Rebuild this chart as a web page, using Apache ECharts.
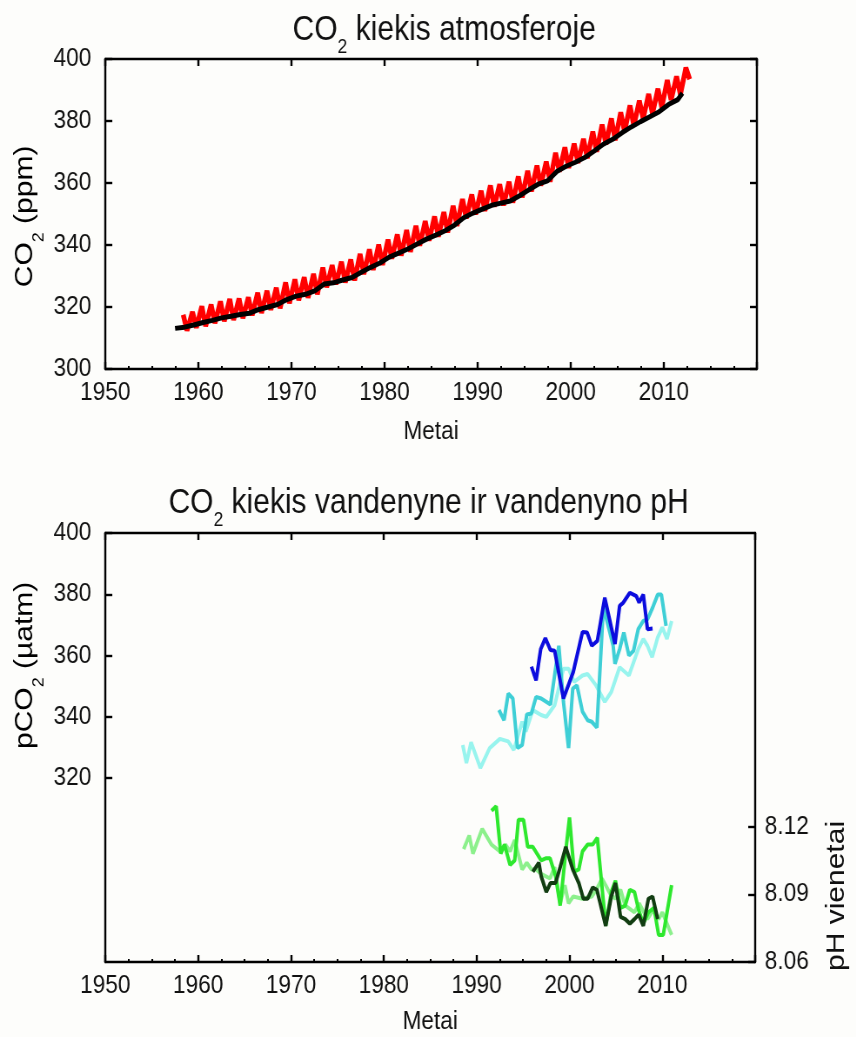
<!DOCTYPE html>
<html><head><meta charset="utf-8">
<script src="https://cdn.jsdelivr.net/npm/echarts@6/dist/echarts.min.js"></script>
<style>
html,body{margin:0;padding:0;background:#fdfdfb}
#wrap{width:856px;height:1037px;overflow:hidden}
#c{width:984px;height:1037px;transform:scaleX(0.87);transform-origin:0 0}
</style>
</head><body><div id="wrap"><div id="c"></div></div>
<script>
// ---- Top chart: atmospheric CO2 ----
const atmYears = [1958,1959,1960,1961,1962,1963,1964,1965,1966,1967,1968,1969,1970,1971,1972,1973,1974,1975,1976,1977,1978,1979,1980,1981,1982,1983,1984,1985,1986,1987,1988,1989,1990,1991,1992,1993,1994,1995,1996,1997,1998,1999,2000,2001,2002,2003,2004,2005,2006,2007,2008,2009,2010,2011,2012];
const atmPeaks = [317.5,318.4,320.2,320.8,321.8,322.6,322.7,323.1,324.6,325.2,326.2,327.9,328.9,329.6,330.7,332.7,333.5,334.6,335.3,337.1,338.6,340.1,341.7,343.4,344.8,346.2,347.7,349.2,350.6,352.6,354.8,356.3,357.5,359.2,359.6,360.4,362.1,363.9,365.6,366.9,369.7,371.5,372.7,374.2,376.6,378.8,380.8,382.8,385.0,386.6,388.7,390.4,393.2,394.4,397.2];
const atmTroughs = [312.4,313.3,313.8,314.8,315.4,315.8,316.4,317.3,318.1,319.1,319.6,321.2,322.2,323.0,324.1,326.4,327.3,327.9,328.6,330.6,332.0,333.6,335.6,336.6,337.8,339.8,341.4,342.7,344.1,346.2,348.6,349.9,351.0,352.4,352.8,353.7,355.4,357.3,359.2,360.4,363.7,364.9,366.5,368.0,370.1,372.5,373.8,376.6,378.4,380.8,382.3,384.4,386.8,388.5,393.5];
const trendYears = [1957.5,1958.5,1959.5,1960.5,1961.5,1962.5,1963.5,1964.5,1965.5,1966.5,1967.5,1968.5,1969.5,1970.5,1971.5,1972.5,1973.5,1974.5,1975.5,1976.5,1977.5,1978.5,1979.5,1980.5,1981.5,1982.5,1983.5,1984.5,1985.5,1986.5,1987.5,1988.5,1989.5,1990.5,1991.5,1992.5,1993.5,1994.5,1995.5,1996.5,1997.5,1998.5,1999.5,2000.5,2001.5,2002.5,2003.5,2004.5,2005.5,2006.5,2007.5,2008.5,2009.5,2010.5,2011.5,2012.0];
const trendVals = [313.1,313.5,314.2,315.0,315.7,316.5,317.0,317.6,318.0,319.2,320.0,320.8,322.4,323.5,324.1,325.2,327.4,327.8,328.7,329.5,331.2,332.8,334.2,336.1,337.4,338.7,340.3,341.9,343.2,344.6,346.4,348.8,350.3,351.6,352.8,353.5,354.2,355.9,357.8,359.6,360.7,363.7,365.4,366.7,368.2,370.3,372.5,374.1,376.2,378.1,379.8,381.4,383.0,385.3,386.9,389.0];

// ---- Bottom chart: ocean pCO2 (µatm) ----
const blueYears = [1995.9,1996.4,1996.9,1997.4,1997.95,1998.4,1999.35,2000.4,2001.4,2001.9,2002.4,2003.0,2003.8,2004.9,2005.4,2005.8,2006.5,2007.2,2007.5,2007.95,2008.4,2008.95];
const blueVals = [356.4,351.9,362.1,365.7,361.8,361.6,346.0,354.6,367.7,367.5,363.2,364.8,378.9,363.8,376.2,377.3,380.5,379.4,377.3,379.9,368.6,368.8];
const cyanYears = [1992.4,1992.95,1993.4,1993.9,1994.4,1994.9,1995.4,1995.9,1996.4,1996.95,1997.95,1998.85,1999.35,1999.9,2000.35,2000.8,2001.4,2001.95,2002.4,2002.95,2003.65,2004.7,2004.9,2005.4,2005.85,2006.4,2006.9,2007.4,2007.95,2008.4,2008.95,2009.5,2009.9,2010.4];
const cyanVals = [342.2,338.9,347.6,346.0,329.8,330.8,340.8,341.1,346.5,346.0,344.0,363.2,344.9,329.8,349.2,350.3,341.7,338.9,338.4,336.5,376.0,363.2,357.3,362.1,367.5,360.0,361.6,368.6,371.3,371.8,375.6,379.9,379.9,369.7];
const paleYears = [1988.5,1988.9,1989.4,1990.4,1991.4,1992.5,1993.4,1994.0,1994.9,1995.3,1996.05,1996.95,1997.5,1998.4,1999.35,1999.9,2000.5,2001.4,2001.95,2002.85,2003.8,2004.5,2005.4,2006.4,2007.4,2007.95,2008.4,2008.9,2009.5,2010.0,2010.5,2011.0];
const paleVals = [330.8,324.9,331.7,323.3,329.8,332.8,332.0,329.2,338.4,335.2,342.2,340.6,340.0,343.8,355.7,355.7,351.4,353.5,354.0,350.3,344.9,348.1,356.2,353.5,362.1,365.4,363.2,359.5,365.9,369.2,365.4,371.3];

// ---- Bottom chart: ocean pH ----
const lgYears = [1988.6,1989.2,1989.6,1990.6,1991.6,1992.5,1993.1,1993.6,1994.1,1994.9,1995.4,1995.9,1996.4,1996.95,1997.9,1998.4,1999.0,1999.5,1999.9,2000.4,2001.4,2002.4,2002.9,2003.5,2003.9,2004.4,2004.9,2005.5,2006.0,2007.0,2007.5,2008.4,2009.0,2009.6,2010.0,2011.0];
const lgVals = [8.110,8.116,8.108,8.119,8.112,8.109,8.112,8.109,8.114,8.101,8.104,8.101,8.101,8.099,8.097,8.102,8.086,8.094,8.086,8.089,8.088,8.089,8.092,8.097,8.094,8.090,8.088,8.092,8.085,8.082,8.086,8.079,8.083,8.079,8.082,8.072];
const bgYears = [1991.6,1992.1,1992.6,1993.0,1993.6,1994.1,1994.5,1995.05,1995.5,1996.05,1996.95,1997.5,1997.9,1998.5,1999.0,1999.6,2000.0,2000.5,2001.0,2001.4,2001.95,2002.5,2003.0,2003.9,2004.5,2004.95,2005.5,2006.0,2006.5,2007.0,2007.45,2007.95,2008.5,2009.1,2009.6,2010.1,2011.0];
const bgVals = [8.127,8.129,8.108,8.112,8.103,8.105,8.123,8.123,8.111,8.111,8.105,8.106,8.106,8.098,8.085,8.109,8.124,8.100,8.101,8.109,8.112,8.112,8.115,8.076,8.091,8.096,8.084,8.085,8.092,8.091,8.083,8.077,8.082,8.084,8.072,8.072,8.094];
const dgYears = [1996.05,1996.7,1996.95,1997.5,1997.95,1998.5,1999.0,1999.6,2000.35,2001.0,2001.5,2001.95,2002.5,2002.95,2003.9,2004.5,2004.95,2005.5,2006.0,2006.5,2007.0,2007.45,2007.95,2008.5,2008.95,2009.5];
const dgVals = [8.100,8.104,8.098,8.091,8.095,8.095,8.102,8.111,8.101,8.095,8.088,8.088,8.093,8.092,8.076,8.089,8.095,8.080,8.079,8.077,8.079,8.081,8.076,8.088,8.089,8.079];

const xTickLabels = [1950,1960,1970,1980,1990,2000,2010];
const co2TickLabels = [300,320,340,360,380,400];
const pco2TickLabels = [320,340,360,380,400];
const phTickLabels = [8.06,8.09,8.12];

const zip = (xs, ys) => xs.map((x, i) => [x, ys[i]]);
const redData = [];
atmYears.forEach((y, i) => { redData.push([y + 0.37, atmPeaks[i]]); redData.push([y + 0.78, atmTroughs[i]]); });

const FONT = '"Liberation Sans", Arial, sans-serif';
const INK = '#111';
const lineBlk = { color: '#000', width: 2.4 };
const plain = v => String(v);
const LBL = 26;

function xAxisPair(grid, name, gap) {
  return [{
    type: 'value', gridIndex: grid, position: 'bottom', min: 1950, max: 2020, interval: 10,
    axisLine: { show: true, onZero: false, lineStyle: lineBlk },
    axisTick: { show: true, inside: true, length: 7, lineStyle: lineBlk },
    minorTick: { show: true, splitNumber: 4, length: 3, lineStyle: { color: '#000', width: 2 } },
    axisLabel: { customValues: xTickLabels, formatter: plain, fontSize: LBL, color: INK, fontFamily: FONT, margin: 11 },
    splitLine: { show: false },
    name: name, nameLocation: 'middle', nameGap: gap,
    nameTextStyle: { fontSize: LBL, color: INK, fontFamily: FONT }
  }, {
    type: 'value', gridIndex: grid, position: 'top', min: 1950, max: 2020, interval: 10,
    axisLine: { show: true, onZero: false, lineStyle: lineBlk },
    axisTick: { show: true, inside: true, length: 7, lineStyle: lineBlk },
    axisLabel: { show: false }, splitLine: { show: false }
  }];
}

const titleRich = {
  a: { fontSize: 34.5, fontWeight: 'normal', fontFamily: FONT, color: INK, lineHeight: 38, verticalAlign: 'top' },
  s: { fontSize: 20, fontWeight: 'normal', fontFamily: FONT, color: INK, lineHeight: 14, verticalAlign: 'bottom' },
  z: { fontSize: 10, lineHeight: 44, verticalAlign: 'top' }
};
const nameRich = {
  a: { fontSize: 30, fontFamily: FONT, color: INK, lineHeight: 34, verticalAlign: 'top' },
  s: { fontSize: 18, fontFamily: FONT, color: INK, lineHeight: 12, verticalAlign: 'bottom' },
  z: { fontSize: 10, lineHeight: 40, verticalAlign: 'top' }
};

const option = {
  backgroundColor: '#fdfdfb',
  animation: false,
  title: [
    { text: '{a|CO}{s|2}{a| kiekis atmosferoje}{z| }', left: 507, top: 8, textAlign: 'center', textStyle: { fontWeight: 'normal', rich: titleRich } },
    { text: '{a|CO}{s|2}{a| kiekis vandenyne ir vandenyno pH}{z| }', left: 489, top: 481, textAlign: 'center', textStyle: { fontWeight: 'normal', rich: titleRich } }
  ],
  grid: [
    { left: 121, top: 59, width: 749, height: 310, show: false },
    { left: 121, top: 533, width: 747, height: 429, show: false }
  ],
  xAxis: [...xAxisPair(0, 'Metai', 50), ...xAxisPair(1, 'Metai', 47)],
  yAxis: [
    {
      type: 'value', gridIndex: 0, position: 'left', min: 300, max: 400, interval: 20,
      axisLine: { show: true, onZero: false, lineStyle: lineBlk },
      axisTick: { show: true, inside: true, length: 8, lineStyle: lineBlk },
      axisLabel: { customValues: co2TickLabels, formatter: plain, fontSize: LBL, color: INK, fontFamily: FONT, margin: 16 },
      splitLine: { show: false }
    },
    {
      type: 'value', gridIndex: 0, position: 'right', min: 300, max: 400, interval: 20,
      axisLine: { show: true, onZero: false, lineStyle: lineBlk },
      axisTick: { show: true, inside: true, length: 8, lineStyle: lineBlk },
      axisLabel: { show: false }, splitLine: { show: false }
    },
    {
      type: 'value', gridIndex: 1, position: 'left', min: 260, max: 400, interval: 20,
      axisLine: { show: true, onZero: false, lineStyle: lineBlk },
      axisTick: { show: true, inside: true, length: 8, lineStyle: lineBlk, customValues: pco2TickLabels },
      axisLabel: { customValues: pco2TickLabels, formatter: plain, fontSize: LBL, color: INK, fontFamily: FONT, margin: 16 },
      splitLine: { show: false }
    },
    {
      type: 'value', gridIndex: 1, position: 'right', min: 8.06, max: 8.25,
      axisLine: { show: true, onZero: false, lineStyle: lineBlk },
      axisTick: { show: true, inside: true, length: 8, lineStyle: lineBlk, customValues: phTickLabels },
      axisLabel: { customValues: phTickLabels, formatter: v => v.toFixed(2), fontSize: LBL, color: INK, fontFamily: FONT, margin: 11 },
      splitLine: { show: false }
    }
  ],
  graphic: [
    { type: 'text', x: 34, y: 215, rotation: Math.PI / 2,
      style: { text: '{a|CO}{s|2}{a| (ppm)}{z| }', align: 'center', verticalAlign: 'middle', rich: nameRich } },
    { type: 'text', x: 34, y: 664, rotation: Math.PI / 2,
      style: { text: '{a|pCO}{s|2}{a| (µatm)}{z| }', align: 'center', verticalAlign: 'middle', rich: nameRich } },
    { type: 'text', x: 962, y: 896, rotation: Math.PI / 2,
      style: { text: 'pH vienetai', align: 'center', verticalAlign: 'middle', fontSize: 30, fontFamily: FONT, fill: INK } }
  ],
  series: [
    { type: 'line', xAxisIndex: 0, yAxisIndex: 0, data: redData, showSymbol: false, lineStyle: { color: '#ff0000', width: 5.5 }, z: 2 },
    { type: 'line', xAxisIndex: 0, yAxisIndex: 0, data: zip(trendYears, trendVals), showSymbol: false, lineStyle: { color: '#000', width: 5 }, z: 3 },
    { type: 'line', xAxisIndex: 2, yAxisIndex: 2, data: zip(paleYears, paleVals), showSymbol: false, lineStyle: { color: '#98f4ee', width: 4 }, z: 2 },
    { type: 'line', xAxisIndex: 2, yAxisIndex: 2, data: zip(cyanYears, cyanVals), showSymbol: false, lineStyle: { color: '#3fcfd6', width: 4 }, z: 3 },
    { type: 'line', xAxisIndex: 2, yAxisIndex: 2, data: zip(blueYears, blueVals), showSymbol: false, lineStyle: { color: '#0c0cde', width: 4 }, z: 4 },
    { type: 'line', xAxisIndex: 2, yAxisIndex: 3, data: zip(lgYears, lgVals), showSymbol: false, lineStyle: { color: '#8cf08c', width: 4 }, z: 2 },
    { type: 'line', xAxisIndex: 2, yAxisIndex: 3, data: zip(bgYears, bgVals), showSymbol: false, lineStyle: { color: '#2ee82e', width: 4 }, z: 3 },
    { type: 'line', xAxisIndex: 2, yAxisIndex: 3, data: zip(dgYears, dgVals), showSymbol: false, lineStyle: { color: '#123d12', width: 4 }, z: 4 }
  ]
};
echarts.init(document.getElementById('c'), null, { renderer: 'canvas' }).setOption(option);
</script>
</body></html>
